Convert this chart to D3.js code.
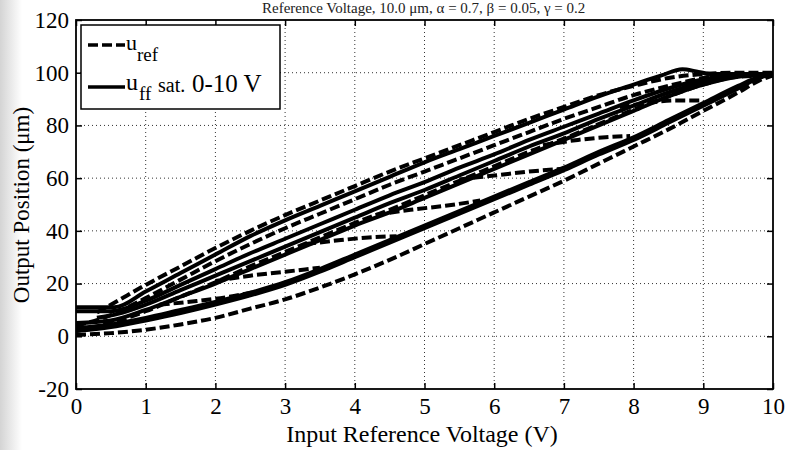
<!DOCTYPE html>
<html>
<head>
<meta charset="utf-8">
<script src="https://cdn.jsdelivr.net/npm/d3@7"></script>
<style>
  body { margin: 0; background: #fff; }
  svg { display: block; font-family: "Liberation Serif", "Times New Roman", serif; }
</style>
</head>
<body>
<svg id="chart" width="787" height="450"></svg>
<script>
// axis ticks
const xTicks = [0, 1, 2, 3, 4, 5, 6, 7, 8, 9, 10];
const yTicks = [-20, 0, 20, 40, 60, 80, 100, 120];

// u_ref (dashed): ascending branch, descending branches, reversal steps
const refLower = [[0,0.5],[0.5,1.2],[1,2.5],[1.5,4.5],[2,7],[2.5,10.5],[3,14],[3.5,18.5],[4,23.5],[4.5,29],[5,35],[5.5,41],[6,47],[6.5,53],[7,59],[7.5,65.5],[8,72],[8.5,78.5],[9,85.5],[9.5,92.5],[9.8,97],[10,99]];
const refUpper1 = [[0.3,9],[0.6,13.5],[1,19.5],[1.5,26.5],[2,33.5],[2.5,40],[3,46],[3.5,51.5],[4,57],[4.5,62.5],[5,67.5],[5.5,72.5],[6,77.5],[6.5,82.5],[7,87],[7.5,91.5],[8,95],[8.5,98],[9,99.5],[9.5,100],[10,100]];
const refUpper2 = [[0,4],[0.4,7],[1,14.5],[1.5,21.5],[2,28.5],[2.5,35],[3,41],[3.5,46.5],[4,52],[4.5,57.5],[5,62.5],[5.5,67.5],[6,72.5],[6.5,77.5],[7,82.5],[7.5,87],[8,91.5],[8.5,95],[9,98],[9.5,99.5],[10,99.5]];
const refUpper3 = [[0,2],[0.5,5],[1,9.5],[1.5,15],[2,20.5],[2.5,26.5],[3,32],[3.5,37.5],[4,43],[4.5,48],[5,53.5],[5.5,59],[6,64.5],[6.5,70],[7,75],[7.5,80.5],[8,86],[8.5,91],[9,95.5],[9.5,98.5],[10,99]];
const refSteps = [
  [[1.2,12],[1.7,13.3],[2.2,15],[2.6,17]],
  [[2.0,21],[2.5,23],[3,24.5],[3.5,26]],
  [[3.3,35],[3.8,36.5],[4.2,37.5],[4.6,38]],
  [[4.3,46],[4.8,48],[5.3,49.5],[5.8,51.5]],
  [[5.5,59.5],[6,61],[6.5,62.5],[6.95,63.5]],
  [[6.7,72.5],[7.2,74.5],[7.6,75.5],[7.95,76]],
  [[7.8,87],[8.2,88.5],[8.6,89.5],[9,89.5]]
];

// u_ff sat. 0-10 V (solid)
const ffLower = [[0,3],[0.5,4.5],[1,7],[1.5,10],[2,13],[2.5,16.5],[3,20.5],[3.5,25.5],[4,31],[4.5,36.5],[5,42],[5.5,47.5],[6,53],[6.5,58.5],[7,64],[7.5,70],[8,75.5],[8.5,82],[9,88.5],[9.5,95],[9.8,98.5],[10,100]];
const ffLower2 = [[0,2],[0.5,3.5],[1,6],[1.5,8.8],[2,12],[2.5,15.5],[3,19.5],[3.5,24.5],[4,30],[4.5,35.5],[5,41],[5.5,46.5],[6,52],[6.5,57.5],[7,63],[7.5,69],[8,74.5],[8.5,81],[9,87.5],[9.5,94],[9.8,98],[10,99.5]];
const ffUpper1 = [[0,11],[0.55,11],[1,17],[1.5,24],[2,31],[2.5,38],[3,44],[3.5,49.5],[4,55],[4.5,60.5],[5,66],[5.5,71],[6,76],[6.5,81],[7,86],[7.5,91],[8,95.5],[8.4,99],[8.7,101.3],[8.9,100.5],[9.1,99.5],[9.5,99.5],[10,99.5]];
const ffUpper2 = [[0,9.5],[0.5,9.5],[1,13.5],[1.5,19.5],[2,25.5],[2.5,31.5],[3,37],[3.5,42.5],[4,48],[4.5,53.5],[5,58.5],[5.5,64],[6,69],[6.5,74.5],[7,79.5],[7.5,84.5],[8,89.5],[8.5,94],[9,97.5],[9.5,99],[10,99]];
const ffUpper3 = [[0,5],[0.5,6],[1,10],[1.5,15],[2,20],[2.5,25.5],[3,31],[3.5,36.5],[4,42],[4.5,47],[5,52.5],[5.5,58],[6,63.5],[6.5,69],[7,74.5],[7.5,80],[8,85.5],[8.5,91],[9,95.5],[9.5,98.5],[10,99.5]];
const ffUpper4 = [[0.3,7],[0.6,8.5],[1,12],[1.5,17.5],[2,23],[2.5,28.5],[3,34],[3.5,39.5],[4,45],[4.5,50.5],[5,55.5],[5.5,61],[6,66.5],[6.5,72],[7,77],[7.5,82.5],[8,87.5],[8.5,92.5],[9,96.5],[9.5,99],[10,99.5]];

const svg = d3.select('#chart');
const plotL = 76, plotR = 773, plotT = 20, plotB = 389;

const x = d3.scaleLinear().domain([0, 10]).range([plotL, plotR]);
const y = d3.scaleLinear().domain([-20, 120]).range([plotB, plotT]);

// faint scan shading on the left edge
const grad = svg.append('defs').append('linearGradient').attr('id', 'edge');
grad.append('stop').attr('offset', '0%').attr('stop-color', '#d4d4d4');
grad.append('stop').attr('offset', '100%').attr('stop-color', '#ffffff');
svg.append('rect').attr('x', 0).attr('y', 0).attr('width', 22).attr('height', 450).attr('fill', 'url(#edge)');

// title
svg.append('text')
  .attr('x', 262).attr('y', 13)
  .attr('font-size', 15)
  .attr('fill', '#222')
  .text('Reference Voltage, 10.0 μm, α = 0.7, β = 0.05, γ = 0.2');

// dotted grid
svg.append('g').selectAll('line')
  .data(xTicks.slice(1, -1))
  .enter().append('line')
  .attr('x1', d => x(d)).attr('x2', d => x(d))
  .attr('y1', plotT).attr('y2', plotB)
  .attr('stroke', '#333').attr('stroke-width', 1).attr('stroke-dasharray', '1,3');
svg.append('g').selectAll('line')
  .data(yTicks.slice(1, -1))
  .enter().append('line')
  .attr('x1', plotL).attr('x2', plotR)
  .attr('y1', d => y(d)).attr('y2', d => y(d))
  .attr('stroke', '#333').attr('stroke-width', 1).attr('stroke-dasharray', '1,3');

// curves
svg.append('clipPath').attr('id', 'plot')
  .append('rect').attr('x', plotL).attr('y', plotT).attr('width', plotR - plotL).attr('height', plotB - plotT);

const line = d3.line()
  .x(d => x(d[0]))
  .y(d => y(d[1]))
  .curve(d3.curveMonotoneX);

const curves = svg.append('g').attr('clip-path', 'url(#plot)');

[ffLower, ffLower2, ffUpper1, ffUpper2, ffUpper3, ffUpper4].forEach((c) => {
  curves.append('path')
    .attr('d', line(c))
    .attr('fill', 'none')
    .attr('stroke', '#000')
    .attr('stroke-width', 4);
});

[refLower, refUpper1, refUpper2, refUpper3].concat(refSteps).forEach((c) => {
  curves.append('path')
    .attr('d', line(c))
    .attr('fill', 'none')
    .attr('stroke', '#000')
    .attr('stroke-width', 4)
    .attr('stroke-dasharray', '10,4');
});

// axes, ticks pointing inward
const fmt = d => String(d);
const xAxis = svg.append('g')
  .attr('transform', `translate(0,${plotB})`)
  .call(d3.axisBottom(x).tickValues(xTicks).tickSize(-6).tickSizeOuter(0).tickPadding(9).tickFormat(fmt));
const yAxis = svg.append('g')
  .attr('transform', `translate(${plotL},0)`)
  .call(d3.axisLeft(y).tickValues(yTicks).tickSize(-6).tickSizeOuter(0).tickPadding(7).tickFormat(fmt));
svg.append('g')
  .attr('transform', `translate(0,${plotT})`)
  .call(d3.axisTop(x).tickValues(xTicks).tickSize(-6).tickSizeOuter(0).tickFormat(''));
svg.append('g')
  .attr('transform', `translate(${plotR},0)`)
  .call(d3.axisRight(y).tickValues(yTicks).tickSize(-6).tickSizeOuter(0).tickFormat(''));

svg.selectAll('.domain').remove();
svg.selectAll('.tick line').attr('stroke', '#000').attr('stroke-width', 1.5);
[xAxis, yAxis].forEach((a) => {
  a.selectAll('text')
    .attr('font-family', '"Liberation Serif", serif')
    .attr('font-size', 23)
    .attr('fill', '#000');
});

svg.append('rect')
  .attr('x', plotL).attr('y', plotT)
  .attr('width', plotR - plotL).attr('height', plotB - plotT)
  .attr('fill', 'none').attr('stroke', '#000').attr('stroke-width', 1.8);

// axis labels
svg.append('text')
  .attr('x', 422).attr('y', 442)
  .attr('text-anchor', 'middle')
  .attr('font-size', 24)
  .text('Input Reference Voltage (V)');
svg.append('text')
  .attr('transform', 'translate(29,205) rotate(-90)')
  .attr('text-anchor', 'middle')
  .attr('font-size', 23)
  .text('Output Position (μm)');

// legend
const legend = svg.append('g');
legend.append('rect')
  .attr('x', 81).attr('y', 25).attr('width', 199).attr('height', 84)
  .attr('fill', '#fff').attr('stroke', '#000').attr('stroke-width', 1.5);
legend.append('line')
  .attr('x1', 88).attr('x2', 125).attr('y1', 45).attr('y2', 45)
  .attr('stroke', '#000').attr('stroke-width', 3.5).attr('stroke-dasharray', '10,4');
legend.append('text').attr('x', 126).attr('y', 50).attr('font-size', 22).text('u');
legend.append('text').attr('x', 137).attr('y', 61).attr('font-size', 19).text('ref');
legend.append('line')
  .attr('x1', 88).attr('x2', 125).attr('y1', 87).attr('y2', 87)
  .attr('stroke', '#000').attr('stroke-width', 3.5);
legend.append('text').attr('x', 126).attr('y', 90).attr('font-size', 24).text('u');
legend.append('text').attr('x', 139).attr('y', 100).attr('font-size', 19).text('ff');
legend.append('text').attr('x', 158).attr('y', 92).attr('font-size', 20).text('sat.');
legend.append('text').attr('x', 192).attr('y', 92).attr('font-size', 25).text('0-10 V');
</script>
</body>
</html>
